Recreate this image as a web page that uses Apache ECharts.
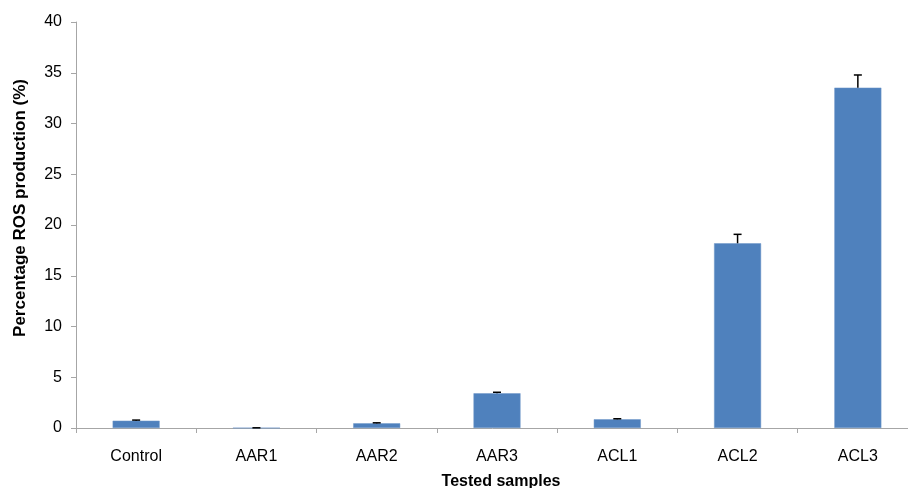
<!DOCTYPE html>
<html>
<head>
<meta charset="utf-8">
<script src="https://cdn.jsdelivr.net/npm/echarts@6/dist/echarts.min.js"></script>
<style>
html,body{margin:0;padding:0;background:#fff;}
#chart{width:908px;height:488px;}
</style>
</head>
<body>
<div id="chart"></div>
<script>
const categories = ['Control', 'AAR1', 'AAR2', 'AAR3', 'ACL1', 'ACL2', 'ACL3'];
const values = [0.72, 0.0, 0.46, 3.42, 0.86, 18.2, 33.53];
const errors = [0.06, 0.02, 0.05, 0.1, 0.05, 0.88, 1.25];
const yTicks = [0, 5, 10, 15, 20, 25, 30, 35, 40];
const yTitle = 'Percentage ROS production (%)';
const xTitle = 'Tested samples';

const font = '"Liberation Sans", Arial, Helvetica, sans-serif';
const chart = echarts.init(document.getElementById('chart'));
const errData = categories.map((c, i) => [i, values[i], values[i] + errors[i]]);

chart.setOption({
  animation: false,
  backgroundColor: '#fff',
  grid: { left: 76, top: 22, width: 842, height: 406, containLabel: false, outerBoundsMode: 'none' },
  graphic: [{
    type: 'text',
    x: 20,
    y: 208,
    rotation: Math.PI / 2,
    style: {
      text: yTitle,
      font: 'bold 17px ' + font,
      fill: '#000',
      align: 'center',
      verticalAlign: 'middle'
    }
  }],
  xAxis: {
    type: 'category',
    data: categories,
    name: xTitle,
    nameLocation: 'middle',
    nameGap: 46,
    nameTextStyle: { fontFamily: font, fontSize: 16, fontWeight: 'bold', color: '#000', padding: [0, 0, 0, 8] },
    axisLine: { lineStyle: { color: '#a6a6a6', width: 1 } },
    axisTick: { show: true, alignWithLabel: false, length: 5, lineStyle: { color: '#a6a6a6' } },
    axisLabel: { fontFamily: font, fontSize: 16, color: '#000', margin: 21 },
    splitLine: { show: false }
  },
  yAxis: {
    type: 'value',
    min: yTicks[0],
    max: yTicks[yTicks.length - 1],
    interval: 5,
    axisLine: { show: true, lineStyle: { color: '#a6a6a6', width: 1 } },
    axisTick: { show: true, length: 5, lineStyle: { color: '#a6a6a6' } },
    axisLabel: { fontFamily: font, fontSize: 16, color: '#000', margin: 14 },
    splitLine: { show: false }
  },
  series: [
    {
      type: 'bar',
      data: values,
      barWidth: 47,
      itemStyle: { color: '#4F81BD', borderColor: '#6f97c9', borderWidth: 0.5 }
    },
    {
      type: 'custom',
      data: errData,
      z: 10,
      renderItem: function (params, api) {
        const x = api.value(0);
        const lo = api.coord([x, api.value(1)]);
        const hi = api.coord([x, api.value(2)]);
        const hw = 4;
        const style = { stroke: '#000', lineWidth: 1.5 };
        return {
          type: 'group',
          children: [
            { type: 'line', shape: { x1: lo[0], y1: lo[1], x2: hi[0], y2: hi[1] }, style: style },
            { type: 'line', shape: { x1: hi[0] - hw, y1: hi[1], x2: hi[0] + hw, y2: hi[1] }, style: style }
          ]
        };
      }
    }
  ]
});
</script>
</body>
</html>
